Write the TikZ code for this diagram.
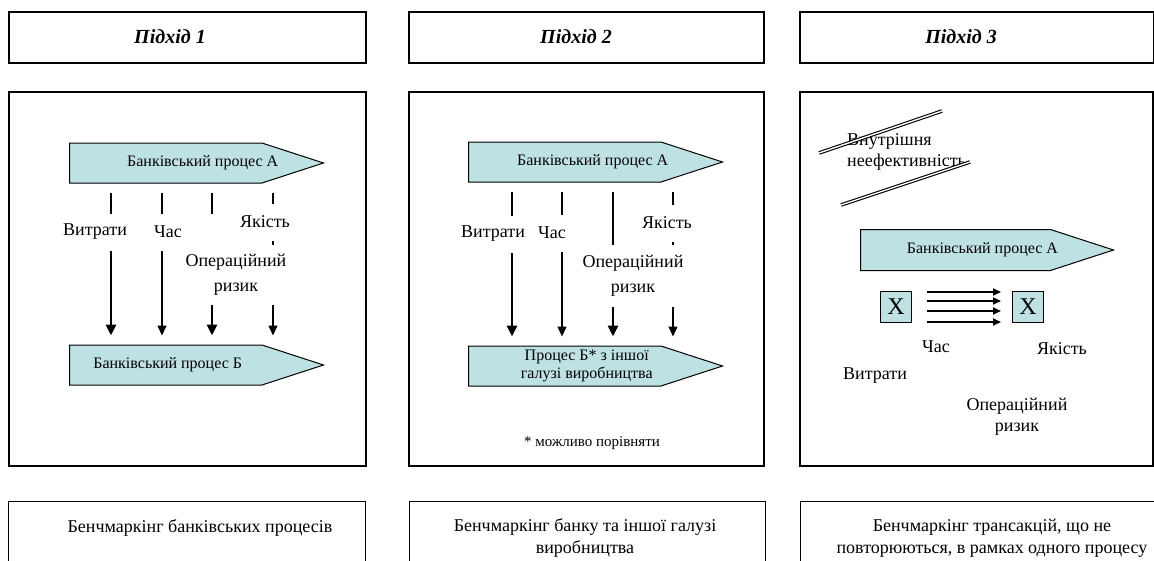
\documentclass[tikz,border=0pt]{standalone}
\usepackage{fontspec}
\setmainfont{Liberation Serif}
\usepackage{tikz}
\usetikzlibrary{shapes.symbols,arrows.meta,positioning}
\definecolor{procfill}{RGB}{190,225,227}

\begin{document}
\begin{tikzpicture}[x=1pt,y=-1pt,every node/.style={font=\fontsize{18}{25}\selectfont}]
  \tikzstyle{frame} = [draw, line width=1.8pt, inner sep=0pt, anchor=north west]
  \tikzstyle{capbox} = [draw, line width=1.3pt, inner sep=0pt, anchor=north west]
  \tikzstyle{headtxt} = [font=\fontsize{20}{24}\selectfont\bfseries\itshape]
  \tikzstyle{process} = [signal, signal to=east, signal pointer angle=36, draw,
      line width=1pt, fill=procfill, minimum width=254pt, minimum height=40pt,
      inner sep=2pt, anchor=west]
  \tikzstyle{ptext} = [align=center, inner sep=0pt, font=\fontsize{16}{18}\selectfont]
  \tikzstyle{factor} = [fill=white, inner xsep=1pt, inner ysep=0pt, minimum height=37pt]
  \tikzstyle{heavy} = [-{Triangle[length=11pt,width=10pt]}, line width=2.8pt,
      shorten <=9pt, shorten >=9pt]
  \tikzstyle{light} = [-{Triangle[length=10pt,width=9pt]}, line width=1.2pt,
      shorten <=9pt, shorten >=9pt]
  \tikzstyle{xbox} = [draw, line width=1pt, fill=procfill, minimum size=31pt,
      inner sep=0pt, font=\fontsize{24}{24}\selectfont]
  \tikzstyle{flow} = [-{Triangle[length=8pt,width=7pt]}, line width=1.8pt,
      shorten <=15pt, shorten >=11pt]
  \tikzstyle{strike} = [double, double distance=1.4pt, line width=1.1pt]

  \path[use as bounding box, clip] (0,0) rectangle (1154,560);

  % headers, panels and captions of the three approaches
  \node (head1)  [frame, minimum width=357pt, minimum height=51pt]  at (8,11)   {};
  \node (head2)  [frame, minimum width=355pt, minimum height=51pt]  at (408,11) {};
  \node (head3)  [frame, minimum width=354pt, minimum height=51pt]  at (799,11) {};
  \node (panel1) [frame, minimum width=357pt, minimum height=374pt] at (8,91)   {};
  \node (panel2) [frame, minimum width=355pt, minimum height=374pt] at (408,91) {};
  \node (panel3) [frame, minimum width=353pt, minimum height=374pt] at (799,91) {};
  \node (cap1)   [capbox, minimum width=357pt, minimum height=80pt] at (8,501)   {};
  \node (cap2)   [capbox, minimum width=356pt, minimum height=80pt] at (409,501) {};
  \node (cap3)   [capbox, minimum width=380pt, minimum height=80pt] at (800,501) {};

  \node (ht1) [headtxt] at (170,37) {Підхід 1};
  \node (ht2) [headtxt] at (576,37) {Підхід 2};
  \node (ht3) [headtxt] at (961,37) {Підхід 3};

  \node (ct1) [font=\fontsize{18}{22}\selectfont] at (200,528) {Бенчмаркінг банківських процесів};
  \node (ct2) [font=\fontsize{18}{22}\selectfont, align=center] at (585,538)
      {Бенчмаркінг банку та іншої галузі\\виробництва};
  \node (ct3) [font=\fontsize{18}{22}\selectfont, align=center] at (992,538)
      {Бенчмаркінг трансакцій, що не\\повторюються, в рамках одного процесу};

  % approach 1
  \node (procA1) [process, label={[ptext, xshift=37pt]center:Банківський процес А}] at (69,163) {};
  \node (procB1) [process, label={[ptext, xshift=2pt]center:Банківський процес Б}] at (69,365) {};
  \foreach \cx/\sty in {111/heavy,162/light,212/heavy,273/light}
    \draw[\sty] (procA1.south -| \cx,0) -- (procB1.north -| \cx,0);
  \node (time1) [factor, minimum width=100pt] at (168,232) {Час};
  \node (cost1) [factor] at (95,232) {Витрати};
  \node (qual1) [factor] at (265,222) {Якість};
  \node (risk1) [factor, align=center, minimum height=60pt] at (236,275) {Операційний\\ризик};

  % approach 2
  \node (procA2) [process, label={[ptext, xshift=28pt]center:Банківський процес А}] at (468,162) {};
  \node (procB2) [process, label={[ptext, xshift=22pt]center:{Процес Б* з іншої\\галузі виробництва}}]
      at (468,366) {};
  \foreach \cx/\sty in {512/heavy,562/light,613/heavy,673/light}
    \draw[\sty] (procA2.south -| \cx,0) -- (procB2.north -| \cx,0);
  \node (cost2) [factor] at (493,234) {Витрати};
  \node (time2) [factor] at (552,233) {Час};
  \node (qual2) [factor] at (667,223) {Якість};
  \node (risk2) [factor, align=center, minimum height=62pt] at (633,276) {Операційний\\ризик};
  \node (note2) [font=\fontsize{15}{18}\selectfont] at (592,443) {* можливо порівняти};

  % approach 3
  \node (ineff) [align=left, anchor=west, inner sep=0pt, font=\fontsize{18}{21}\selectfont]
      at (847,152) {Внутрішня\\неефективність};
  \draw[strike] (819,153) -- (942,111);
  \draw[strike] (841,205) -- (970,162);
  \node (procA3) [process, minimum width=253pt, minimum height=41pt,
      label={[ptext, xshift=27pt]center:Банківський процес А}] at (860,250) {};
  \node (xa) [xbox] at (896,307) {X};
  \node (xb) [xbox] at (1028,307) {X};
  \foreach \dy in {15,6,-4,-15}
    \draw[flow] ([yshift=\dy pt]xa.east) -- ([yshift=\dy pt]xb.west);
  \node (time3) at (936,347) {Час};
  \node (qual3) at (1062,349) {Якість};
  \node (cost3) at (875,376) {Витрати};
  \node (risk3) [align=center, font=\fontsize{18}{21}\selectfont] at (1017,417) {Операційний\\ризик};
\end{tikzpicture}
\end{document}
